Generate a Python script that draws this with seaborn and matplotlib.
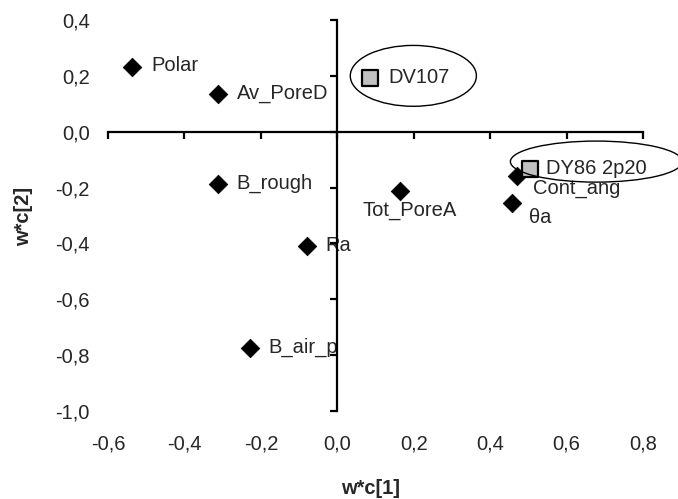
import matplotlib
matplotlib.use("Agg")
import matplotlib.pyplot as plt
import seaborn as sns
import pandas as pd
from matplotlib.patches import Ellipse

# --- data ---
var_names = ["Polar", "Av_PoreD", "B_rough", "Ra", "B_air_p", "Tot_PoreA", "Cont_ang", "θa"]
var_x = [-0.537, -0.311, -0.311, -0.079, -0.228, 0.165, 0.471, 0.458]
var_y = [0.233, 0.136, -0.186, -0.408, -0.773, -0.211, -0.157, -0.254]
obs_names = ["DV107", "DY86 2p20"]
obs_x = [0.086, 0.505]
obs_y = [0.193, -0.132]
x_ticks = [-0.6, -0.4, -0.2, 0.0, 0.2, 0.4, 0.6, 0.8]
y_ticks = [-1.0, -0.8, -0.6, -0.4, -0.2, 0.0, 0.2, 0.4]
x_label = "w*c[1]"
y_label = "w*c[2]"

FS = 14.5

sns.set_style("white")
plt.rcParams['font.family'] = ['Liberation Sans', 'DejaVu Sans']
plt.rcParams['font.size'] = FS

fig = plt.figure(figsize=(6.78, 4.99), dpi=100)
W, H = 678, 499
ax = fig.add_axes([108 / W, 1 - 411 / H, (643 - 108) / W, (411 - 20) / H])
ax.set_facecolor("none")

df_var = pd.DataFrame({"x": var_x, "y": var_y, "name": var_names})
df_obs = pd.DataFrame({"x": obs_x, "y": obs_y, "name": obs_names})

sns.scatterplot(data=df_var, x="x", y="y", marker="D", s=90, color="black",
                edgecolor="black", linewidth=0.5, ax=ax, zorder=4, clip_on=False)
sns.scatterplot(data=df_obs, x="x", y="y", marker="s", s=120, color="#c0c0c0",
                edgecolor="black", linewidth=1.6, ax=ax, zorder=4, clip_on=False)

ax.set_xlim(-0.6, 0.8)
ax.set_ylim(-1.0, 0.4)

# label offsets (points)
offsets = {
    "Polar": (14, 1, "left", "center"),
    "Av_PoreD": (13, 0, "left", "center"),
    "B_rough": (13, 0, "left", "center"),
    "Ra": (13, 0, "left", "center"),
    "B_air_p": (13, 0, "left", "center"),
    "Tot_PoreA": (7, -14, "center", "center"),
    "Cont_ang": (11, -9, "left", "center"),
    "θa": (12, -11, "left", "center"),
}
for n, x, y in zip(var_names, var_x, var_y):
    dx, dy, ha, va = offsets[n]
    ax.annotate(n, (x, y), xytext=(dx, dy), textcoords="offset points",
                ha=ha, va=va, fontsize=FS, zorder=3)
obs_off = {"DV107": (13, 0), "DY86 2p20": (11, 0)}
for n, x, y in zip(obs_names, obs_x, obs_y):
    dx, dy = obs_off[n]
    ax.annotate(n, (x, y), xytext=(dx, dy), textcoords="offset points",
                ha="left", va="center", fontsize=FS, zorder=5)

# highlight ellipses around the observations
ax.add_patch(Ellipse((0.199, 0.200), 0.330, 0.218, fill=False, edgecolor="black",
                     linewidth=1.0, clip_on=False, zorder=5))
ax.add_patch(Ellipse((0.678, -0.107), 0.45, 0.147, fill=False, edgecolor="black",
                     linewidth=1.0, clip_on=False, zorder=5))

# axes crossing at zero
for s in ["top", "right"]:
    ax.spines[s].set_visible(False)
for s in ["left", "bottom"]:
    ax.spines[s].set_position(("data", 0))
    ax.spines[s].set_linewidth(1.6)
    ax.spines[s].set_color("black")
    ax.spines[s].set_zorder(6)
ax.set_xticks(x_ticks)
ax.set_yticks(y_ticks)
ax.tick_params(axis="both", direction="out", length=5, width=1.6, color="black",
               labelleft=False, labelbottom=False, left=True, bottom=True)
ax.set_xlabel("")
ax.set_ylabel("")

fmt = lambda v: f"{v:.1f}".replace(".", ",")
sx = ax.secondary_xaxis("bottom")
sx.spines["bottom"].set_visible(False)
sx.set_xticks(x_ticks, [fmt(v) for v in x_ticks])
sx.tick_params(length=0, pad=17, labelsize=FS)
sy = ax.secondary_yaxis("left")
sy.spines["left"].set_visible(False)
sy.set_yticks(y_ticks, [fmt(v) for v in y_ticks])
sy.tick_params(length=0, pad=13, labelsize=FS)

fig.text(371 / W, 1 - 488 / H, x_label, ha="center", va="center",
         fontsize=FS, fontweight="bold")
fig.text(24 / W, 1 - 216 / H, y_label, ha="center", va="center",
         fontsize=FS, fontweight="bold", rotation=90)

fig.savefig("out.png", dpi=100)
